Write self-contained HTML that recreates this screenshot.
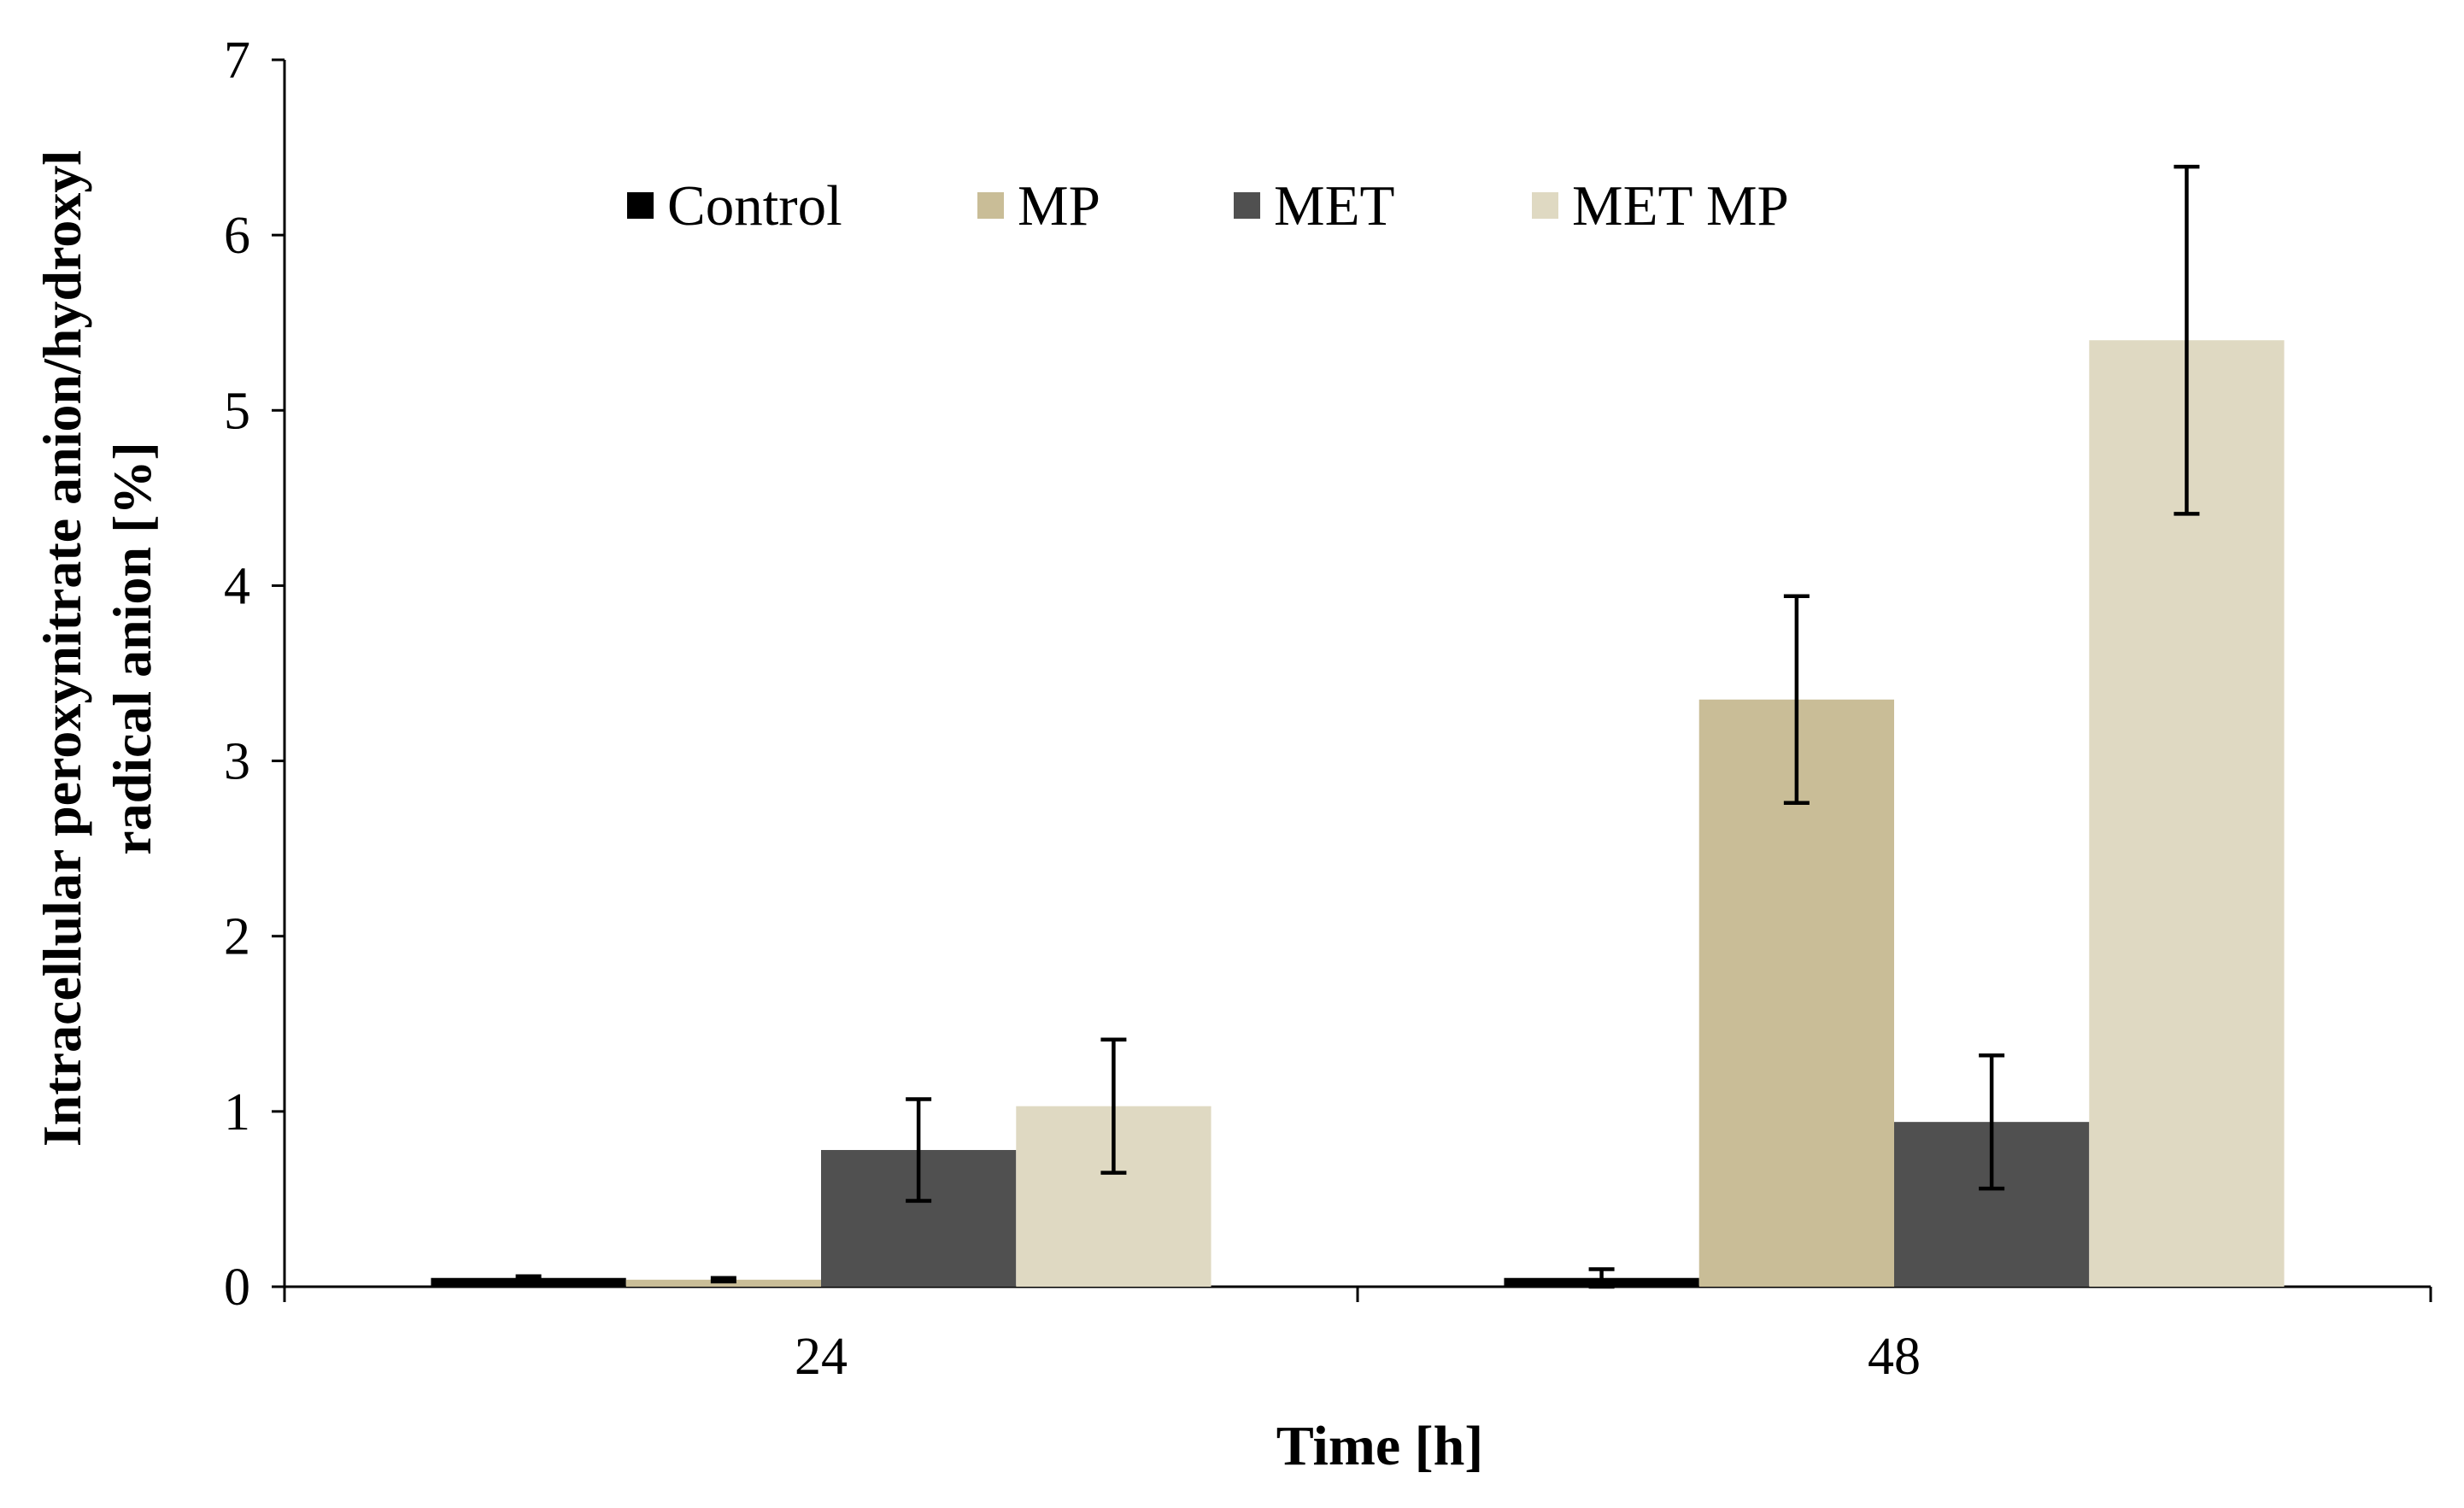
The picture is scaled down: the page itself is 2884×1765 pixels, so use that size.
<!DOCTYPE html>
<html><head><meta charset="utf-8"><style>
html,body{margin:0;padding:0;background:#fff;}
svg text{font-family:"Liberation Serif",serif;fill:#000;}
</style></head><body>
<svg id="chart" width="2884" height="1760" viewBox="0 0 2884 1760" xmlns="http://www.w3.org/2000/svg">
<g id="axes"></g>
<g id="bars"></g>
<g id="legend"></g>
<text x="1615" y="1714" font-size="66" font-weight="bold" text-anchor="middle">Time [h]</text>
<text transform="translate(94,759) rotate(-90)" font-size="64" font-weight="bold" text-anchor="middle">Intracellular peroxynitrate anion/hydroxyl</text>
<text transform="translate(176,759) rotate(-90)" font-size="64" font-weight="bold" text-anchor="middle">radical anion [%]</text>
</svg>
<script>
const categories = ["24", "48"];
const seriesNames = ["Control", "MP", "MET", "MET MP"];
const controlValues = [0.05, 0.05];
const mpValues = [0.04, 3.35];
const metValues = [0.78, 0.94];
const metMpValues = [1.03, 5.40];
const controlErr = [0.01, 0.05];
const mpErr = [0.01, 0.59];
const metErr = [0.29, 0.38];
const metMpErr = [0.38, 0.99];
const yTicks = [0, 1, 2, 3, 4, 5, 6, 7];

const NS = "http://www.w3.org/2000/svg";
const colors = ["#000000", "#c9bd97", "#505050", "#dfd9c2"];
const values = [controlValues, mpValues, metValues, metMpValues];
const errs = [controlErr, mpErr, metErr, metMpErr];
const X0 = 333, X1 = 2845, Y0 = 1506, Y1 = 70, YMAX = 7;
function yScale(v){ return Y0 - (v / YMAX) * (Y0 - Y1); }
const catW = (X1 - X0) / categories.length;
function catCenter(i){ return X0 + catW * (i + 0.5); }
const barW = catW * 0.727 / seriesNames.length;
function mk(tag, attrs, parent){ const e = document.createElementNS(NS, tag); for (const k in attrs) e.setAttribute(k, attrs[k]); parent.appendChild(e); return e; }

const axes = document.getElementById("axes");
let l = mk("line", {x1:X0, y1:Y1, x2:X0, y2:Y0, stroke:"#000", "stroke-width":3}, axes);


l = mk("line", {x1:X0, y1:Y0, x2:X1, y2:Y0, stroke:"#000", "stroke-width":3}, axes);


yTicks.forEach(t => {
  const y = yScale(t);
  const tk = mk("line", {x1:X0-15, y1:y, x2:X0, y2:y, stroke:"#000", "stroke-width":3}, axes);
  
  
  const tx = mk("text", {x:X0-40, y:y+21, "font-size":62, "text-anchor":"end"}, axes);
  tx.textContent = t;
  
  
});
for (let i = 0; i <= categories.length; i++) {
  const x = X0 + catW * i;
  const tk = mk("line", {x1:x, y1:Y0, x2:x, y2:Y0+18, stroke:"#000", "stroke-width":3}, axes);
  
  
}
categories.forEach((c, i) => {
  const tx = mk("text", {x:catCenter(i), y:1608, "font-size":62, "text-anchor":"middle"}, axes);
  tx.textContent = c;
  
  
});

const bars = document.getElementById("bars");
categories.forEach((c, i) => {
  const start = catCenter(i) - barW * seriesNames.length / 2;
  seriesNames.forEach((s, j) => {
    const v = values[j][i], e = errs[j][i];
    const x = start + barW * j;
    const r = mk("rect", {x:x, y:yScale(v), width:barW, height:Y0 - yScale(v), fill:colors[j]}, bars);
    
    
    const cx = x + barW / 2, yt = yScale(v + e), yb = yScale(Math.max(0, v - e));
    const g = mk("g", {stroke:"#000", "stroke-width":4.5}, bars);
    
    
    mk("line", {x1:cx, y1:yt, x2:cx, y2:yb}, g);
    mk("line", {x1:cx-15, y1:yt, x2:cx+15, y2:yt}, g);
    mk("line", {x1:cx-15, y1:yb, x2:cx+15, y2:yb}, g);
  });
});

const legend = document.getElementById("legend");
const legX = [734, 1144, 1444, 1793];
seriesNames.forEach((s, j) => {
  const g = mk("g", {}, legend);
  
  
  mk("rect", {x:legX[j], y:225, width:31, height:31, fill:colors[j]}, g);
  const t = mk("text", {x:legX[j]+47, y:263, "font-size":67}, g);
  t.textContent = s;
});
</script>
</body></html>
